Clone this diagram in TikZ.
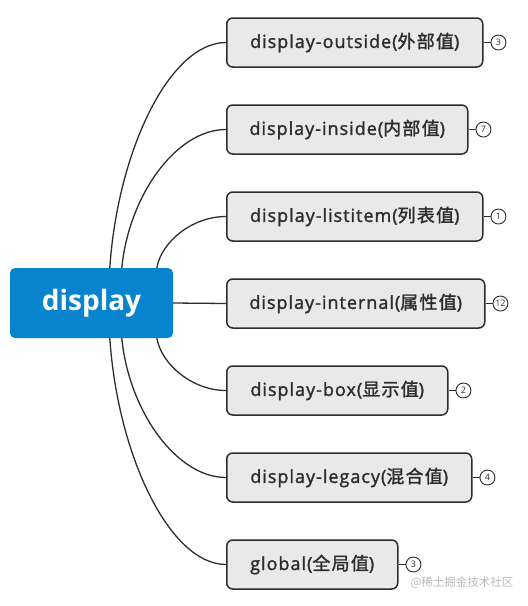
\documentclass[tikz,border=0pt]{standalone}
\usepackage{fontspec}
\setmainfont{Open Sans}
\newfontfamily\childfont{Open Sans}[FakeBold=1.6,LetterSpace=5.5]
\newfontfamily\cjk{Noto Sans CJK SC}[FakeBold=1.6,LetterSpace=7]
\newfontfamily\cjkplain{Noto Sans CJK SC}
\newfontfamily\rootfont{Open Sans}
\definecolor{rootblue}{RGB}{8,132,206}
\definecolor{boxfill}{RGB}{233,233,233}
\definecolor{ink}{RGB}{45,45,45}
\definecolor{wm}{RGB}{185,185,185}
\begin{document}
\begin{tikzpicture}[x=1pt,y=-1pt,
  rootbox/.style={draw=none,fill=rootblue,rounded corners=5pt,minimum width=163pt,minimum height=70pt,
    text=white,font=\rootfont\bfseries\fontsize{28}{33}\selectfont,inner sep=0pt},
  childbox/.style={draw=ink,line width=1.5pt,fill=boxfill,rounded corners=6pt,minimum height=49pt,
    anchor=west,text=ink,font=\childfont\fontsize{18}{21}\selectfont,inner sep=0pt},
  badge/.style={draw=ink,line width=0.9pt,circle,minimum size=15pt,inner sep=0pt,
    font=\rootfont\fontsize{9}{10}\selectfont,text=ink},
  conn/.style={draw=ink,line width=1.3pt},
  badgeline/.style={draw=ink,line width=1pt}]
\useasboundingbox (0,0) rectangle (528,606);

\node[rootbox] (root) at (91.5,303) {display};

\node[childbox,minimum width=256pt] (b1) at (226,42.5) {display-outside({\cjk 外部值})};
\node[childbox,minimum width=241pt] (b2) at (226,129.5) {display-inside({\cjk 内部值})};
\node[childbox,minimum width=256pt] (b3) at (226,216.5) {display-listitem({\cjk 列表值})};
\node[childbox,minimum width=258pt] (b4) at (226,303.5) {display-internal({\cjk 属性值})};
\node[childbox,minimum width=221pt] (b5) at (226,390.5) {display-box({\cjk 显示值})};
\node[childbox,minimum width=245pt] (b6) at (226,477.5) {display-legacy({\cjk 混合值})};
\node[childbox,minimum width=171pt] (b7) at (226,564.5) {global({\cjk 全局值})};

\foreach \i/\n in {1/3,2/7,3/1,4/12,5/2,6/4,7/3}{
  \node[badge,anchor=west] (c\i) at ([xshift=7pt]b\i.east) {\n};
  \draw[badgeline] (b\i.east) -- (c\i.west);
}

% top connectors
\draw[conn] ([xshift=100pt]root.north west) .. controls +(8,-118) and +(-56,0) .. (b1.west);
\draw[conn] ([xshift=112pt]root.north west) .. controls +(7,-72) and +(-50,0) .. (b2.west);
\draw[conn] ([xshift=147pt]root.north west) .. controls +(5,-27) and +(-33,0) .. (b3.west);
\draw[conn] (root.east) -- (b4.west);
% bottom connectors
\draw[conn] ([xshift=147pt]root.south west) .. controls +(5,27) and +(-33,0) .. (b5.west);
\draw[conn] ([xshift=112pt]root.south west) .. controls +(7,72) and +(-50,0) .. (b6.west);
\draw[conn] ([xshift=100pt]root.south west) .. controls +(8,118) and +(-56,0) .. (b7.west);

\node[text=wm,font=\cjkplain\fontsize{11.5}{13}\selectfont,anchor=center] (wmark) at (462,583) {@稀土掘金技术社区};
\end{tikzpicture}
\end{document}
